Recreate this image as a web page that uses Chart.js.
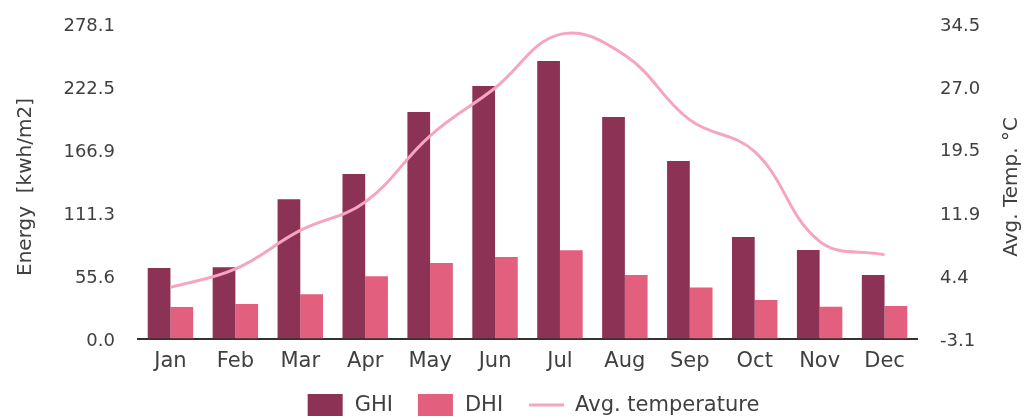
<!DOCTYPE html>
<html>
<head>
<meta charset="utf-8">
<title>Monthly irradiation and temperature</title>
<script src="https://cdn.jsdelivr.net/npm/chart.js@4.4.1/dist/chart.umd.min.js"></script>
<style>
  html, body { margin: 0; padding: 0; background: #ffffff; }
  #wrap { width: 1025px; height: 418px; position: relative; }
</style>
</head>
<body>
<div id="wrap"><canvas id="chart"></canvas></div>
<script>
// Monthly values
const months = ['Jan', 'Feb', 'Mar', 'Apr', 'May', 'Jun', 'Jul', 'Aug', 'Sep', 'Oct', 'Nov', 'Dec'];
const ghi = [62.2, 63.0, 123.0, 145.2, 200.0, 223.0, 245.0, 195.5, 156.7, 89.6, 78.1, 56.0];
const dhi = [27.8, 30.4, 39.0, 55.0, 66.7, 72.0, 78.0, 56.0, 45.0, 34.0, 28.0, 28.7];
const avgTemp = [3.0, 5.2, 9.8, 13.2, 21.1, 26.8, 33.2, 30.7, 23.0, 19.2, 8.5, 6.9];

// Axis tick labels
const energyTicks = [0.0, 55.6, 111.3, 166.9, 222.5, 278.1];
const tempTicks = [-3.1, 4.4, 11.9, 19.5, 27.0, 34.5];

const TEXT = '#404040';
const FONT = "'DejaVu Sans', sans-serif";
const COLOR_GHI = '#8c3255';
const COLOR_DHI = '#e2607e';
const COLOR_TEMP = '#f5a5be';

// Axis titles on both sides, both reading bottom to top
const axisTitles = {
  id: 'axisTitles',
  afterDraw(chart) {
    const { ctx, chartArea } = chart;
    const midY = (chartArea.top + chartArea.bottom) / 2;
    const draw = (text, x, y) => {
      ctx.save();
      ctx.translate(x, y);
      ctx.rotate(-Math.PI / 2);
      ctx.font = '20px ' + FONT;
      ctx.fillStyle = TEXT;
      ctx.textAlign = 'center';
      ctx.textBaseline = 'middle';
      ctx.fillText(text, 0, 0);
      ctx.restore();
    };
    draw('Energy  [kwh/m2]', chart.scales.y.left + 26, midY + 6);
    draw('Avg. Temp. \u00B0C', chart.scales.y1.right - 13, midY + 6);
  }
};

// Legend row under the axis: rectangles for bars, a short stroke for the line
const legendRow = {
  id: 'legendRow',
  afterDraw(chart) {
    const { ctx, chartArea } = chart;
    const boxW = 35, boxH = 22, gapText = 12, gapItem = 25;
    ctx.save();
    ctx.font = '21px ' + FONT;
    const items = chart.data.datasets.map(ds => ({
      text: ds.label,
      type: ds.type,
      color: ds.type === 'line' ? ds.borderColor : ds.backgroundColor,
      w: ctx.measureText(ds.label).width
    }));
    let total = 0;
    items.forEach((it, i) => {
      total += boxW + gapText + it.w + (i < items.length - 1 ? gapItem : 0);
    });
    let x = (chartArea.left + chartArea.right) / 2 + 6 - total / 2;
    const cy = 405;
    items.forEach(it => {
      if (it.type === 'line') {
        ctx.strokeStyle = it.color;
        ctx.lineWidth = 3;
        ctx.beginPath();
        ctx.moveTo(x + 1, cy);
        ctx.lineTo(x + boxW + 1, cy);
        ctx.stroke();
      } else {
        ctx.fillStyle = it.color;
        ctx.fillRect(x, cy - boxH / 2, boxW, boxH);
      }
      x += boxW + gapText;
      ctx.fillStyle = TEXT;
      ctx.textAlign = 'left';
      ctx.textBaseline = 'middle';
      ctx.fillText(it.text, x, cy + 1);
      x += it.w + gapItem;
    });
    ctx.restore();
  }
};

// Vertical axes: fixed widths and no extra padding above/below the plot
function fitVertical(width) {
  return (s) => {
    s.width = width;
    s.paddingTop = 0;
    s.paddingBottom = 0;
  };
}

new Chart(document.getElementById('chart'), {
  data: {
    labels: months,
    datasets: [
      {
        type: 'bar', label: 'GHI', data: ghi, yAxisID: 'y',
        backgroundColor: COLOR_GHI, borderWidth: 0,
        categoryPercentage: 0.7, barPercentage: 1.0, order: 1
      },
      {
        type: 'bar', label: 'DHI', data: dhi, yAxisID: 'y',
        backgroundColor: COLOR_DHI, borderWidth: 0,
        categoryPercentage: 0.7, barPercentage: 1.0, order: 2
      },
      {
        type: 'line', label: 'Avg. temperature', data: avgTemp, yAxisID: 'y1',
        borderColor: COLOR_TEMP, backgroundColor: COLOR_TEMP, borderWidth: 3,
        pointRadius: 0, tension: 0.4, fill: false, order: 0
      }
    ]
  },
  options: {
    responsive: true,
    maintainAspectRatio: false,
    devicePixelRatio: 1,
    animation: false,
    layout: { padding: { top: 23.5, right: 0, bottom: 0, left: 0 } },
    plugins: {
      legend: { display: false },
      tooltip: { enabled: false },
      title: { display: false }
    },
    scales: {
      x: {
        grid: { display: false, drawTicks: false },
        border: { display: true, color: '#333333', width: 2 },
        ticks: { color: TEXT, font: { family: FONT, size: 21 }, padding: 10 },
        afterFit(s) { s.height = 79.5; s.paddingLeft = 0; s.paddingRight = 0; }
      },
      y: {
        position: 'left',
        min: 0, max: 278.1,
        grid: { display: false, drawTicks: false },
        border: { display: false },
        afterBuildTicks(s) { s.ticks = energyTicks.map(v => ({ value: v })); },
        ticks: {
          color: TEXT, font: { family: FONT, size: 18 }, padding: 23, labelOffset: 2.5,
          callback: (v) => Number(v).toFixed(1)
        },
        afterFit: fitVertical(138)
      },
      y1: {
        position: 'right',
        min: -3.1, max: 34.5,
        grid: { display: false, drawTicks: false },
        border: { display: false },
        afterBuildTicks(s) { s.ticks = tempTicks.map(v => ({ value: v })); },
        ticks: {
          color: TEXT, font: { family: FONT, size: 18 }, padding: 23, labelOffset: 2.5,
          callback: (v) => Number(v).toFixed(1)
        },
        afterFit: fitVertical(108)
      }
    }
  },
  plugins: [axisTitles, legendRow]
});
</script>
</body>
</html>
